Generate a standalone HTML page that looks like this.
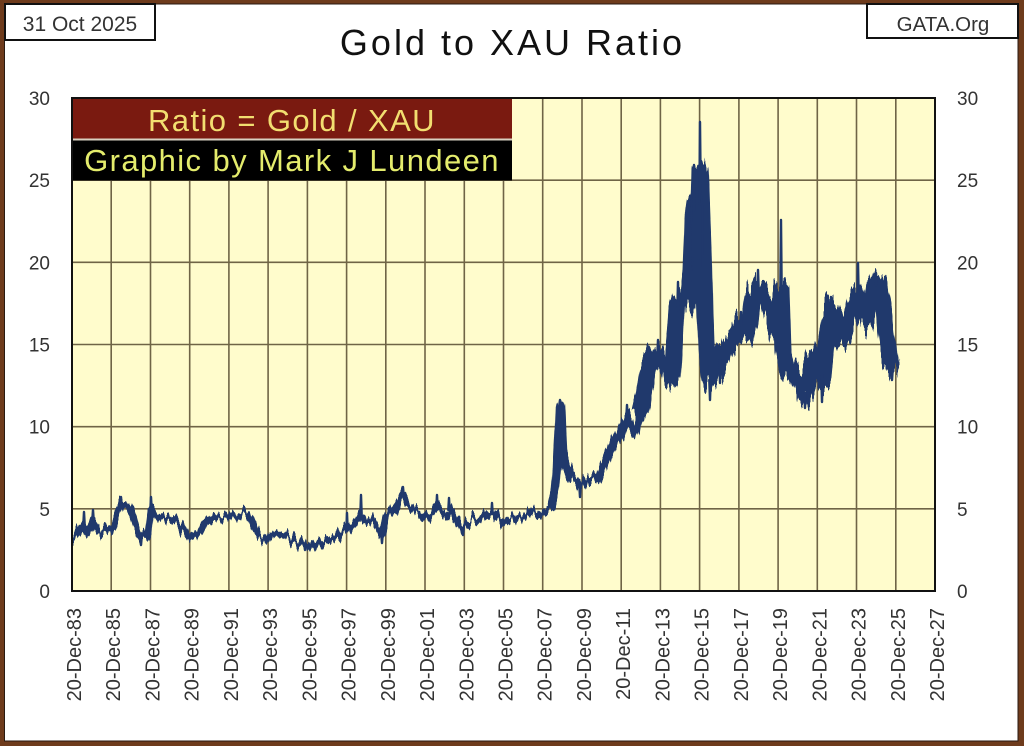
<!DOCTYPE html>
<html>
<head>
<meta charset="utf-8">
<style>
html,body{margin:0;padding:0;background:#fff;}
body{width:1024px;height:746px;overflow:hidden;position:relative;}
svg{position:absolute;left:0;top:0;}
text{font-family:"Liberation Sans",Arial,sans-serif;}
</style>
</head>
<body>
<svg width="1024" height="746" viewBox="0 0 1024 746" xmlns="http://www.w3.org/2000/svg">
  <defs>
    <clipPath id="pc"><rect x="72" y="98" width="863" height="493"/></clipPath>
    <filter id="fA" filterUnits="userSpaceOnUse" x="60" y="90" width="900" height="520" color-interpolation-filters="sRGB">
      <feTurbulence type="fractalNoise" baseFrequency="0.28 0.015" numOctaves="2" seed="7" result="t"/>
      <feColorMatrix in="t" type="matrix" values="0 0 0 0 0.5  0 1 0 0 0  0 0 0 0 0.5  0 0 0 0 1" result="m"/>
      <feDisplacementMap in="SourceGraphic" in2="m" scale="20" xChannelSelector="R" yChannelSelector="G"/>
    </filter>
    <filter id="fB" filterUnits="userSpaceOnUse" x="60" y="90" width="900" height="520" color-interpolation-filters="sRGB">
      <feTurbulence type="fractalNoise" baseFrequency="0.28 0.015" numOctaves="2" seed="11" result="t"/>
      <feColorMatrix in="t" type="matrix" values="0 0 0 0 0.5  0 1 0 0 0  0 0 0 0 0.5  0 0 0 0 1" result="m"/>
      <feDisplacementMap in="SourceGraphic" in2="m" scale="26" xChannelSelector="R" yChannelSelector="G"/>
    </filter>
    <filter id="fC" filterUnits="userSpaceOnUse" x="60" y="90" width="900" height="520" color-interpolation-filters="sRGB">
      <feTurbulence type="fractalNoise" baseFrequency="0.28 0.015" numOctaves="2" seed="19" result="t"/>
      <feColorMatrix in="t" type="matrix" values="0 0 0 0 0.5  0 1 0 0 0  0 0 0 0 0.5  0 0 0 0 1" result="m"/>
      <feDisplacementMap in="SourceGraphic" in2="m" scale="42" xChannelSelector="R" yChannelSelector="G"/>
    </filter>
  </defs>

  <!-- outer frame -->
  <rect x="0" y="0" width="1024" height="746" fill="#6e3b1c"/>
  <rect x="4" y="3.5" width="1014.5" height="738" fill="#2a1a10"/>
  <rect x="5" y="4.5" width="1012.5" height="736" fill="#ffffff"/>

  <!-- date box -->
  <rect x="5" y="4" width="150" height="36" fill="#fff" stroke="#111" stroke-width="2"/>
  <text x="80" y="31" font-size="21" fill="#333" text-anchor="middle">31 Oct 2025</text>
  <!-- GATA box -->
  <rect x="867" y="4" width="151" height="34" fill="#fff" stroke="#111" stroke-width="2"/>
  <text x="943" y="31" font-size="20.5" fill="#333" text-anchor="middle">GATA.Org</text>

  <!-- title -->
  <text x="512.5" y="55" font-size="36" letter-spacing="3" fill="#111" text-anchor="middle">Gold to XAU Ratio</text>

  <!-- plot background -->
  <rect x="72" y="98" width="863" height="493" fill="#fffccc"/>
  <g stroke="#6f6446" stroke-width="1.6">
    <line x1="111.2" y1="98" x2="111.2" y2="591"/>
    <line x1="150.5" y1="98" x2="150.5" y2="591"/>
    <line x1="189.7" y1="98" x2="189.7" y2="591"/>
    <line x1="228.9" y1="98" x2="228.9" y2="591"/>
    <line x1="268.1" y1="98" x2="268.1" y2="591"/>
    <line x1="307.4" y1="98" x2="307.4" y2="591"/>
    <line x1="346.6" y1="98" x2="346.6" y2="591"/>
    <line x1="385.8" y1="98" x2="385.8" y2="591"/>
    <line x1="425.0" y1="98" x2="425.0" y2="591"/>
    <line x1="464.3" y1="98" x2="464.3" y2="591"/>
    <line x1="503.5" y1="98" x2="503.5" y2="591"/>
    <line x1="542.7" y1="98" x2="542.7" y2="591"/>
    <line x1="582.0" y1="98" x2="582.0" y2="591"/>
    <line x1="621.2" y1="98" x2="621.2" y2="591"/>
    <line x1="660.4" y1="98" x2="660.4" y2="591"/>
    <line x1="699.6" y1="98" x2="699.6" y2="591"/>
    <line x1="738.9" y1="98" x2="738.9" y2="591"/>
    <line x1="778.1" y1="98" x2="778.1" y2="591"/>
    <line x1="817.3" y1="98" x2="817.3" y2="591"/>
    <line x1="856.5" y1="98" x2="856.5" y2="591"/>
    <line x1="895.8" y1="98" x2="895.8" y2="591"/>
    <line x1="72" y1="508.8" x2="935" y2="508.8"/>
    <line x1="72" y1="426.7" x2="935" y2="426.7"/>
    <line x1="72" y1="344.5" x2="935" y2="344.5"/>
    <line x1="72" y1="262.3" x2="935" y2="262.3"/>
    <line x1="72" y1="180.2" x2="935" y2="180.2"/>
  </g>

  <!-- series -->
  <g clip-path="url(#pc)">
  <g fill="none" stroke="#20396c" stroke-linejoin="round" stroke-linecap="round">
    <polyline stroke-width="7" filter="url(#fA)"
      points="72,537 76,535 80,530 84,525 88,533 93,520 97,530 103,532 108,528 113,528 117,515 121,505 126,505 130,510 133,515 137,530 141,537 145,535 148,535 151,510 155,515 160,518 165,517 170,517 175,520 180,525 185,532 190,537 195,535 200,532 205,522 212,518 220,518 228,517 235,515 245,512 250,515 255,528 260,537 265,538 270,537 275,535 285,535 295,540 305,545 315,543 325,541 335,538 345,530 350,527 356,522 361,515 366,520 372,522 378,528 382,535 386,515 392,513 398,505 403,495 408,505 414,508 420,512 426,517 432,515 437,508 443,515 449,510 455,520 462,528 468,522 475,519 482,518 490,512 496,516 503,522 510,520 518,518 525,516 533,514 540,513 546,510 552,505 555,490"/>
    <polyline stroke-width="8.5" filter="url(#fB)"
      points="552,505 555,490 557,465 559,425 560,405 561,410 563,455 566,465 570,475 575,480 580,485 585,483 590,480 595,478 600,475 605,462 610,455 615,442 620,435 625,420 628,415 632,428 636,430 640,418 645,385"/>
    <polyline stroke-width="17" stroke-linecap="butt" filter="url(#fC)"
      points="640,418 645,385 648,368 653,360 658,355 663,360 668,365 672,378 674,345 677,310 680,300 685,305 689,295 691,275 693,215 695,200 697,215 699,205 700,170 701,190 703,250 705,320 707,355 710,380 714,355 718,350 721,365 725,348 730,345 735,340 741,325 746,335 750,320 753,290 758,290 763,295 768,300 772,318 776,327 779,330 781,290 783,350 787,370 792,375 797,378 802,385 806,395 810,375 815,360 820,370 823,380 826,345 830,310 834,325 838,340 843,338 848,320 853,315 857,295 860,315 865,320 870,310 874,285 879,285 883,310 887,340 889,360 892,370"/>
    <polygon fill="#20396c" stroke-width="2" filter="url(#fB)" points="690,275 692,185 694,166 696,175 698,168 700,185 702,205 703,262 697,258 693,262"/>
    <path stroke-width="2.4" d="M83.3 525L84 512L84.7 525M92.3 520L93 510L93.7 520M120.3 505L121 497L121.7 505M150.3 510L151 497L151.7 510M346.3 530L347 513L347.7 530M360.3 515L361 495L361.7 515M402.3 495L403 487L403.7 495M436.3 508L437 495L437.7 508M448.3 510L449 498L449.7 510M491.3 514L492 503L492.7 514M559.3 405L560 400L560.7 405M626.3 418L627 405L627.7 418M657.3 355L658 340L658.7 355M677.3 310L678 282L678.7 310M693.3 210L694 165L694.7 210M699.3 205L700 122L700.7 190M740.3 325L741 312L741.7 325M757.3 290L758 270L758.7 290M780.3 292L781 220L781.7 292M830.3 310L831 297L831.7 310M857.3 295L858 263L858.7 295M875.3 285L876 273L876.7 285M140.3 537L141 545L141.7 537M381.3 535L382 543L382.7 535M462.3 528L463 535L463.7 528M304.3 545L305 550L305.7 545M709.3 380L710 400L710.7 380M804.3 393L805 408L805.7 393M821.3 375L822 402L822.7 375M891.3 370L892 380L892.7 370M579.3 485L580 497L580.7 485M719.3 360L720 383L720.7 360"/>
  </g>
  </g>

  <!-- legend boxes -->
  <rect x="72" y="98" width="440" height="40.5" fill="#7a1a10"/>
  <rect x="72" y="138.5" width="440" height="2" fill="#d8d0c0"/>
  <rect x="72" y="140.5" width="440" height="40" fill="#000"/>
  <text x="292" y="131" font-size="31" letter-spacing="1.4" fill="#f2de70" text-anchor="middle">Ratio = Gold / XAU</text>
  <text x="292" y="171" font-size="31" letter-spacing="1.4" fill="#e4ec6c" text-anchor="middle">Graphic by Mark J Lundeen</text>

  <!-- plot border -->
  <rect x="72" y="98" width="863" height="493" fill="none" stroke="#111" stroke-width="2"/>

  <!-- y labels -->
  <g font-size="19" fill="#333" text-anchor="end">
    <text x="50" y="598">0</text>
    <text x="50" y="515.8">5</text>
    <text x="50" y="433.7">10</text>
    <text x="50" y="351.5">15</text>
    <text x="50" y="269.3">20</text>
    <text x="50" y="187.2">25</text>
    <text x="50" y="105">30</text>
  </g>
  <g font-size="19" fill="#333" text-anchor="start">
    <text x="957" y="598">0</text>
    <text x="957" y="515.8">5</text>
    <text x="957" y="433.7">10</text>
    <text x="957" y="351.5">15</text>
    <text x="957" y="269.3">20</text>
    <text x="957" y="187.2">25</text>
    <text x="957" y="105">30</text>
  </g>
  <!-- x labels -->
  <g font-size="20" fill="#333" text-anchor="end">
    <text transform="translate(81.0,608) rotate(-90)">20-Dec-83</text>
    <text transform="translate(120.2,608) rotate(-90)">20-Dec-85</text>
    <text transform="translate(159.5,608) rotate(-90)">20-Dec-87</text>
    <text transform="translate(198.7,608) rotate(-90)">20-Dec-89</text>
    <text transform="translate(237.9,608) rotate(-90)">20-Dec-91</text>
    <text transform="translate(277.1,608) rotate(-90)">20-Dec-93</text>
    <text transform="translate(316.4,608) rotate(-90)">20-Dec-95</text>
    <text transform="translate(355.6,608) rotate(-90)">20-Dec-97</text>
    <text transform="translate(394.8,608) rotate(-90)">20-Dec-99</text>
    <text transform="translate(434.0,608) rotate(-90)">20-Dec-01</text>
    <text transform="translate(473.3,608) rotate(-90)">20-Dec-03</text>
    <text transform="translate(512.5,608) rotate(-90)">20-Dec-05</text>
    <text transform="translate(551.7,608) rotate(-90)">20-Dec-07</text>
    <text transform="translate(591.0,608) rotate(-90)">20-Dec-09</text>
    <text transform="translate(630.2,608) rotate(-90)">20-Dec-11</text>
    <text transform="translate(669.4,608) rotate(-90)">20-Dec-13</text>
    <text transform="translate(708.6,608) rotate(-90)">20-Dec-15</text>
    <text transform="translate(747.9,608) rotate(-90)">20-Dec-17</text>
    <text transform="translate(787.1,608) rotate(-90)">20-Dec-19</text>
    <text transform="translate(826.3,608) rotate(-90)">20-Dec-21</text>
    <text transform="translate(865.5,608) rotate(-90)">20-Dec-23</text>
    <text transform="translate(904.8,608) rotate(-90)">20-Dec-25</text>
    <text transform="translate(944.0,608) rotate(-90)">20-Dec-27</text>
  </g>
</svg>
</body>
</html>
